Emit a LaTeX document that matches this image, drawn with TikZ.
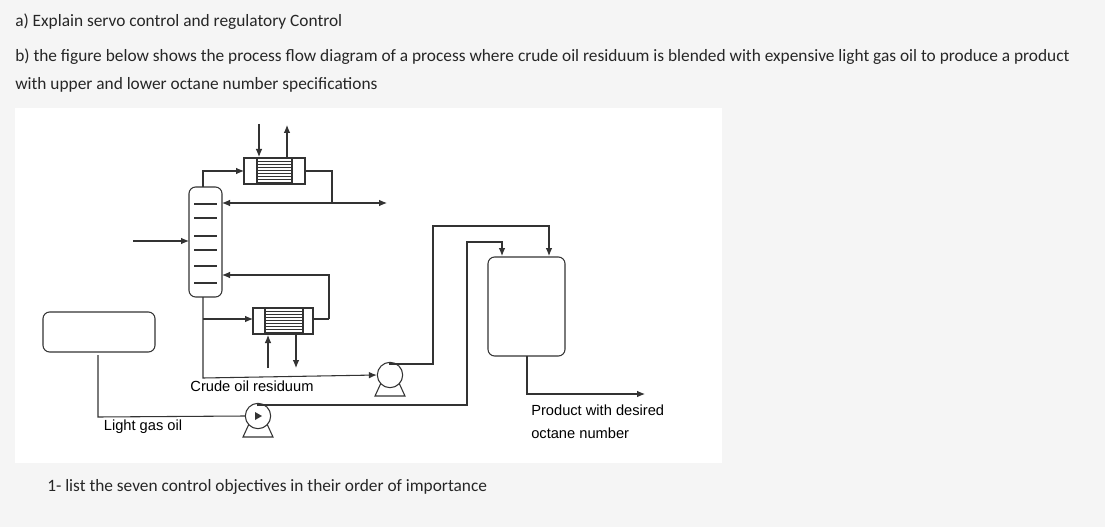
\documentclass[tikz,border=0pt]{standalone}
\usepackage{fontspec}
\setmainfont{Carlito}
\newfontfamily\arialf{Liberation Sans}
\usetikzlibrary{arrows.meta}
\begin{document}
\begin{tikzpicture}[x=0.75pt,y=-0.75pt,
  ln/.style={line width=0.8pt,draw=black!80},
  ar/.style={ln,-{Latex[length=6pt,width=5pt]}},
  vessel/.style={ln,rounded corners=5pt},
  hdr/.style={anchor=west,inner sep=0pt,font=\fontsize{13pt}{15pt}\selectfont,text=black!85},
  lab/.style={inner sep=0pt,font=\arialf\fontsize{11pt}{13pt}\selectfont},
  pumpc/.style={ln,circle,minimum size=19pt,inner sep=0pt}]
\fill[black!4] (0,0) rectangle (1105,527);
\useasboundingbox (0,0) rectangle (1105,527);
\fill[white] (15,108) rectangle (722,463);
\node[hdr] (t1) at (15,22) {a) Explain servo control and regulatory Control};
\node[hdr] (t2) at (15,57) {b) the figure below shows the process flow diagram of a process where crude oil residuum is blended with expensive light gas oil to produce a product};
\node[hdr] (t3) at (15,85) {with upper and lower octane number specifications};
\node[hdr] (t4) at (47,487) {1- list the seven control objectives in their order of importance};
% column
\draw[vessel] (189,187) rectangle (222,297);
\foreach \y in {204,218,236,250,266,283} \draw[ln] (194,\y) -- (217,\y);
\coordinate (colW) at (189,241);
\coordinate (feed) at (133,241);
\draw[ar] (feed) -- (colW);
% condenser
\draw[ln] (244,158) rectangle (305,184);
\draw[ln] (257,158) rectangle (292,184);
\foreach \y in {161,164,...,182} \draw[ln,line width=0.5pt] (257,\y) -- (292,\y);
\coordinate (cin) at (244,171);
\draw[ar] (203,187) -- (203,171) -- (cin);
\draw[ar] (259,124) -- (259,157);
\draw[ar] (287,157) -- (287,125);
\draw[ln] (305,171) -- (332,171) -- (332,203);
\draw[ar] (332,203) -- (222,203);
\draw[ar] (332,203) -- (387,203);
% reboiler
\draw[ln] (253,308) rectangle (313,334);
\draw[ln] (265,308) rectangle (303,334);
\foreach \y in {311,314,...,332} \draw[ln,line width=0.5pt] (265,\y) -- (303,\y);
\draw[ln] (313,319) -- (329,319);
\draw[ar] (329,319) -- (329,275) -- (222,275);
\draw[ar] (203,319) -- (253,319);
\draw[ar] (268,368) -- (268,335);
\draw[ar] (296,335) -- (296,368);
% pumps
\node[pumpc] (p1) at (390,375) {};
\draw[ln] (381,383) -- (375,396) -- (405,396) -- (399,383);
\node[pumpc] (p2) at (258,416) {};
\draw[ln] (249,424) -- (243,437) -- (273,437) -- (267,424);
\fill[black!80] (p2.center)++(4,0) -- ++(-7,-4) -- ++(0,8) -- cycle;
\draw[ar] (203,297) -- (203,378) -- (p1.west);
% tanks
\draw[vessel] (43,312) rectangle (155,352);
\draw[vessel] (488,257) rectangle (565,356);
\draw[ln] (98,355) -- (98,417) -- (p2.west);
\draw[ar] (p1.north) -- (390,364) -- (433,364) -- (433,226) -- (549,226) -- (549,256);
\draw[ar] (258,406) -- (258,405) -- (467,405) -- (467,242) -- (502,242) -- (502,256);
\draw[ar] (527,356) -- (527,394) -- (645,394);
% labels
\node[lab] (l1) at (252,386) {Crude oil residuum};
\node[lab] (l2) at (143,427) {Light gas oil};
\node[lab,anchor=west] (l3) at (531,410) {Product with desired};
\node[lab,anchor=west] (l4) at (531,433) {octane number};
\end{tikzpicture}
\end{document}
